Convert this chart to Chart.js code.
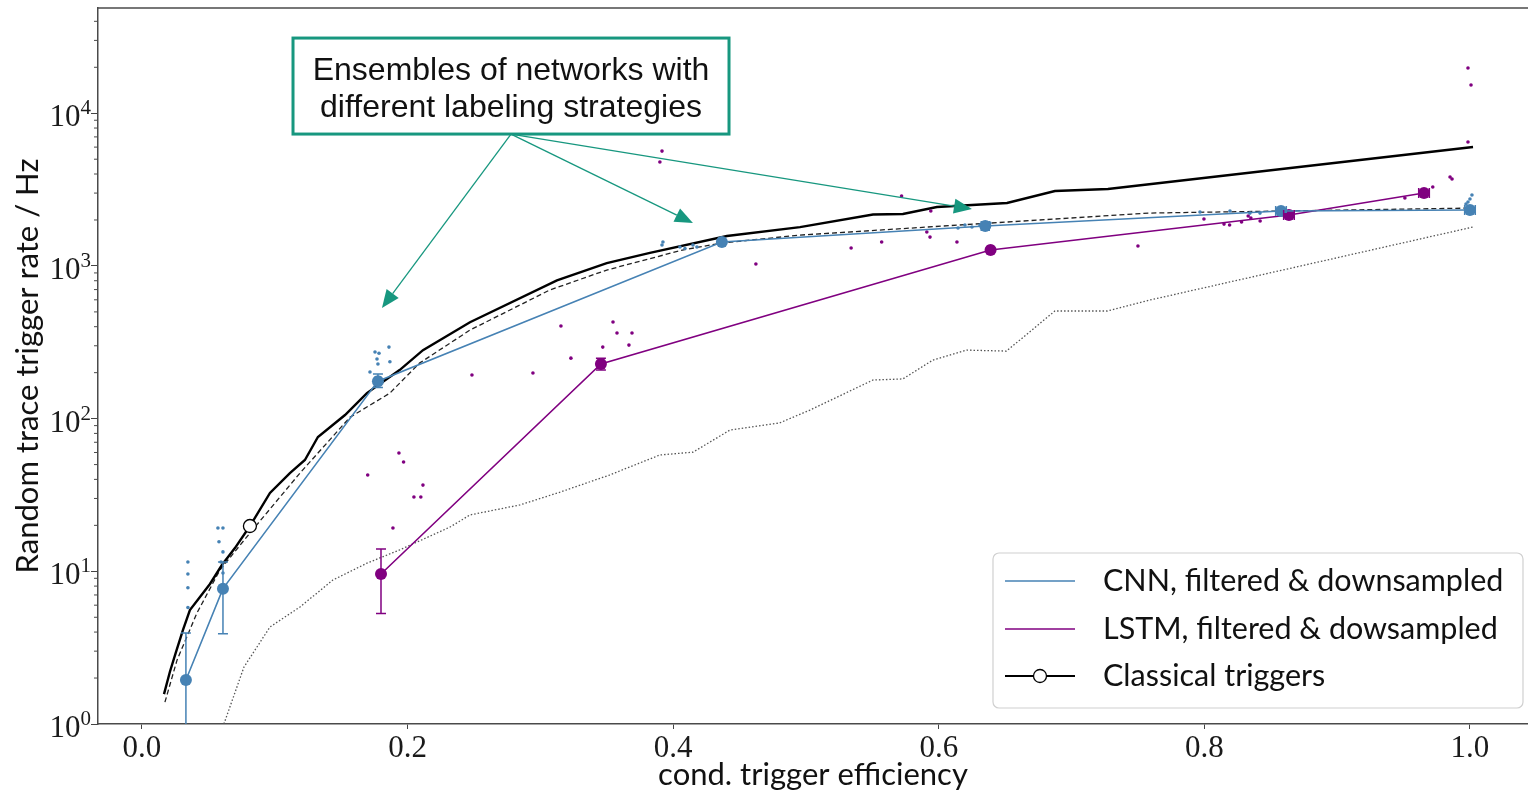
<!DOCTYPE html>
<html><head><meta charset="utf-8">
<script src="https://cdn.jsdelivr.net/npm/chart.js@4/dist/chart.umd.min.js"></script>
<style>html,body{margin:0;padding:0;background:#fff;overflow:hidden}#wrap{width:1528px;height:795px;position:relative}</style>
</head><body><div id="wrap"><canvas id="c" width="1528" height="795"></canvas></div>
<script>
// ---------------- data ----------------
const cnnX    = [0.0331, 0.0610, 0.1777, 0.4367, 0.6350, 0.8577, 1.0000];
const cnnY    = [1.94, 7.7, 176, 1434, 1825, 2290, 2323];
const cnnYLo  = [0.5, 3.9, 160, 1390, 1790, 2250, 2290];
const cnnYHi  = [3.95, 11.5, 196, 1480, 1860, 2330, 2360];
const cnnXErr = [0, 0, 0.002, 0.002, 0.003, 0.004, 0.004];

const lstmX    = [0.1800, 0.3456, 0.6390, 0.8637, 0.9654];
const lstmY    = [9.6, 228, 1271, 2154, 3001];
const lstmYLo  = [5.3, 208, 1240, 2110, 2930];
const lstmYHi  = [14, 249, 1300, 2200, 3070];
const lstmXErr = [0, 0.002, 0.002, 0.004, 0.004];

const cnnEnsX = [0.0346,0.0346,0.0346,0.0346, 0.0572,0.0610,0.0580,0.0610,0.0595,0.0610,
                 0.1755,0.1785,0.1860,0.1770,0.1777,0.1867,0.1717,
                 0.3923,0.3916,0.4051,0.4089,0.4149,0.4179,
                 0.6145,0.6197,0.6250,0.6310,0.6385,
                 0.7967,0.8193,0.8343,0.8419,
                 1.0015,1.0000,0.9985,0.9970];
const cnnEnsY = [11.5,9.6,7.8,5.8, 19.2,19.2,15.6,13.4,11.5,9.75,
                 273,268,294,246,228,236,202,
                 1434,1371,1330,1300,1371,1330,
                 1770,1853,1800,1853,1910,
                 2254,2290,2218,2218,
                 2912,2742,2620,2541];

const lstmEnsX = [0.170,0.1935,0.197,0.2116,0.2048,0.2100,0.1890,
                  0.2485,0.2944,0.3155,0.3230,0.3470,0.3547,0.3577,0.3690,0.3667,
                  0.3916,0.3900,
                  0.4623,0.5340,0.5570,0.5720,0.5910,0.5934,0.5940,0.6137,
                  0.7500,
                  0.7997,0.8148,0.8190,0.8280,0.8330,0.8350,0.8420,
                  0.9510,0.9720,0.9850,0.9865,
                  0.9985,1.0008,0.9985];
const lstmEnsY = [42.7,59.5,52,36.7,30.7,30.7,19.2,
                  193,199,404,249,294,429,364,364,303,
                  5650,4790,
                  1029,1310,1434,2870,1667,1545,2290,1434,
                  1350,
                  2028,1880,1853,1938,2122,2060,1968,
                  2786,3288,3820,3708,
                  19780,15300,6480];

const classicX = [0.0166,0.0210,0.0256,0.0309,0.0361,0.0512,0.0602,0.0700,0.0813,0.0964,0.1114,0.1227,0.1325,0.1529,0.1694,0.1940,0.2116,0.2470,0.3125,0.3500,0.3825,0.4405,0.4955,0.5505,0.5730,0.5986,0.6514,0.6875,0.7274,1.0023];
const classicY = [1.57,2.19,2.96,4.13,5.58,8.26,11.0,14.2,19.8,32.6,44,53.6,75.8,105.6,147,208,281,428,805,1043,1217,1570,1797,2170,2188,2432,2583,3093,3190,6010];
const classicMarkX = [0.0813];
const classicMarkY = [19.8];

const dashedX = [0.0173,0.0264,0.0414,0.0587,0.0813,0.1190,0.1566,0.1867,0.2090,0.2470,0.3070,0.3500,0.4070,0.4367,0.4955,0.7590,1.0023];
const dashedY = [1.39,2.62,5.33,10.2,17.8,44,102,147,231,380,695,940,1271,1413,1593,2220,2394];

const dottedX = [0.0617,0.0768,0.0964,0.1190,0.1438,0.1694,0.1940,0.2320,0.2470,0.2846,0.3148,0.3520,0.3900,0.4150,0.4428,0.4800,0.5030,0.5505,0.5730,0.5956,0.6210,0.6510,0.6875,0.7270,0.7590,1.0023];
const dottedY = [1.0,2.36,4.32,5.84,8.77,11.3,13.8,19.5,23.4,27.2,33,42.7,57.8,60.3,84.2,93.6,113.8,179,182,242,281,277,507,507,598,1798];

const xTickValues = [0.0, 0.2, 0.4, 0.6, 0.8, 1.0];
const xTickLabels = ['0.0', '0.2', '0.4', '0.6', '0.8', '1.0'];
const yTickValues = [1, 10, 100, 1000, 10000];
const yTickExps   = ['0', '1', '2', '3', '4'];
const yMinorMult  = [2,3,4,5,6,7,8,9];

const legendLabels = ['CNN, filtered & downsampled', 'LSTM, filtered & dowsampled', 'Classical triggers'];
const annoLines = ['Ensembles of networks with', 'different labeling strategies'];
const annoBox = {x: 0.2779, y: 15070};
const annoTargets = [{x: 0.1807, y: 530}, {x: 0.4149, y: 1910}, {x: 0.6250, y: 2358}];

const X_MIN = -0.0331, X_MAX = 1.0437, Y_MIN = 1, Y_MAX = 48900;

// ---------------- styles ----------------
const BLUE = '#4682b4', PURPLE = '#800080', TEAL = '#17977f';
const pts = (xs, ys) => xs.map((x, i) => ({x: x, y: ys[i]}));

const errPlugin = {
  id: 'errbars',
  afterDatasetsDraw(chart) {
    const ctx = chart.ctx, ca = chart.chartArea, xs = chart.scales.x, ys = chart.scales.y;
    ctx.save();
    ctx.beginPath(); ctx.rect(ca.left, ca.top, ca.right - ca.left, ca.bottom - ca.top); ctx.clip();
    chart.data.datasets.forEach(ds => {
      if (!ds.errLo) return;
      ctx.strokeStyle = ds.borderColor; ctx.lineWidth = 1.5;
      ds.data.forEach((p, i) => {
        const px = xs.getPixelForValue(p.x), py = ys.getPixelForValue(p.y);
        const lo = ys.getPixelForValue(ds.errLo[i]), hi = ys.getPixelForValue(ds.errHi[i]);
        ctx.beginPath();
        ctx.moveTo(px, lo); ctx.lineTo(px, hi);
        ctx.moveTo(px - 5, lo); ctx.lineTo(px + 5, lo);
        ctx.moveTo(px - 5, hi); ctx.lineTo(px + 5, hi);
        const xe = ds.errX[i];
        if (xe > 0) {
          const a = xs.getPixelForValue(p.x - xe), b = xs.getPixelForValue(p.x + xe);
          ctx.moveTo(a, py); ctx.lineTo(b, py);
          ctx.moveTo(a, py - 5); ctx.lineTo(a, py + 5);
          ctx.moveTo(b, py - 5); ctx.lineTo(b, py + 5);
        }
        ctx.stroke();
      });
    });
    ctx.restore();
  }
};

const decoPlugin = {
  id: 'deco',
  afterDraw(chart) {
    const ctx = chart.ctx, ca = chart.chartArea, xs = chart.scales.x, ys = chart.scales.y;
    ctx.save();
    // top spine
    ctx.strokeStyle = '#4a4a4a'; ctx.lineWidth = 1.5;
    ctx.beginPath(); ctx.moveTo(ca.left - 0.75, ca.top); ctx.lineTo(ca.right, ca.top); ctx.stroke();
    // minor y ticks
    ctx.lineWidth = 1;
    yTickValues.forEach(d => {
      yMinorMult.forEach(m => {
        const v = d * m;
        if (v > Y_MAX) return;
        const py = ys.getPixelForValue(v);
        ctx.beginPath(); ctx.moveTo(ca.left - 4, py); ctx.lineTo(ca.left, py); ctx.stroke();
      });
    });
    // y tick labels 10^k
    ctx.fillStyle = '#1a1a1a';
    yTickValues.forEach((v, i) => {
      const py = ys.getPixelForValue(v);
      ctx.font = '21px "Liberation Serif"';
      const ew = ctx.measureText(yTickExps[i]).width;
      ctx.textAlign = 'right'; ctx.textBaseline = 'alphabetic';
      const xr = ca.left - 7;
      ctx.fillText(yTickExps[i], xr, py + 1);
      ctx.font = '31px "Liberation Serif"';
      ctx.fillText('10', xr - ew, py + 13);
    });
    // annotation arrows
    const bx = xs.getPixelForValue(annoBox.x), by = ys.getPixelForValue(annoBox.y);
    const bw = 436, bh = 96;
    const sx = bx, sy = by + bh / 2;
    ctx.strokeStyle = TEAL; ctx.fillStyle = TEAL; ctx.lineWidth = 1.3;
    annoTargets.forEach(t => {
      const tx = xs.getPixelForValue(t.x), ty = ys.getPixelForValue(t.y);
      const dx = tx - sx, dy = ty - sy, L = Math.hypot(dx, dy);
      const ux = dx / L, uy = dy / L, hl = 18, hw = 7.5;
      const cx = tx - ux * hl, cy = ty - uy * hl;
      ctx.beginPath(); ctx.moveTo(sx, sy); ctx.lineTo(cx, cy); ctx.stroke();
      ctx.beginPath();
      ctx.moveTo(tx, ty);
      ctx.lineTo(cx - uy * hw, cy + ux * hw);
      ctx.lineTo(cx + uy * hw, cy - ux * hw);
      ctx.closePath(); ctx.fill();
    });
    // annotation box
    ctx.fillStyle = '#fff';
    ctx.fillRect(bx - bw / 2, by - bh / 2, bw, bh);
    ctx.strokeStyle = TEAL; ctx.lineWidth = 3;
    ctx.strokeRect(bx - bw / 2, by - bh / 2, bw, bh);
    ctx.fillStyle = '#111'; ctx.font = '32px "Liberation Sans"';
    ctx.textAlign = 'center'; ctx.textBaseline = 'middle';
    ctx.fillText(annoLines[0], bx, by - 15);
    ctx.fillText(annoLines[1], bx, by + 22);
    // legend
    const lx0 = 993, ly0 = 553, lw = 530, lh = 155;
    ctx.beginPath();
    if (ctx.roundRect) ctx.roundRect(lx0, ly0, lw, lh, 6); else ctx.rect(lx0, ly0, lw, lh);
    ctx.fillStyle = 'rgba(255,255,255,0.85)'; ctx.fill();
    ctx.strokeStyle = '#d0d0d0'; ctx.lineWidth = 1.2; ctx.stroke();
    const rows = [581, 629, 676];
    const cols = [BLUE, PURPLE, '#000'];
    rows.forEach((ry, i) => {
      ctx.strokeStyle = cols[i]; ctx.lineWidth = i === 2 ? 2 : 1.6;
      ctx.beginPath(); ctx.moveTo(1005, ry); ctx.lineTo(1075, ry); ctx.stroke();
      if (i === 2) {
        ctx.beginPath(); ctx.arc(1040, ry, 6.5, 0, Math.PI * 2);
        ctx.fillStyle = '#fff'; ctx.fill(); ctx.lineWidth = 1.3; ctx.stroke();
      }
      ctx.fillStyle = '#111'; ctx.font = '30.5px Lato';
      ctx.textAlign = 'left'; ctx.textBaseline = 'middle';
      ctx.fillText(legendLabels[i], 1103, ry);
    });
    ctx.restore();
  }
};

new Chart(document.getElementById('c'), {
  type: 'scatter',
  data: {
    datasets: [
      {label: legendLabels[0], data: pts(cnnX, cnnY), showLine: true, borderColor: BLUE, backgroundColor: BLUE,
       borderWidth: 1.6, pointRadius: 6, pointBorderWidth: 0, pointBackgroundColor: BLUE, tension: 0, order: 1,
       errLo: cnnYLo, errHi: cnnYHi, errX: cnnXErr},
      {label: legendLabels[1], data: pts(lstmX, lstmY), showLine: true, borderColor: PURPLE, backgroundColor: PURPLE,
       borderWidth: 1.6, pointRadius: 6, pointBorderWidth: 0, pointBackgroundColor: PURPLE, tension: 0, order: 2,
       errLo: lstmYLo, errHi: lstmYHi, errX: lstmXErr},
      {label: 'cnn ensemble', data: pts(cnnEnsX, cnnEnsY), showLine: false, pointRadius: 1.8, pointBorderWidth: 0,
       pointBackgroundColor: BLUE, borderColor: BLUE, order: 3},
      {label: 'lstm ensemble', data: pts(lstmEnsX, lstmEnsY), showLine: false, pointRadius: 1.8, pointBorderWidth: 0,
       pointBackgroundColor: PURPLE, borderColor: PURPLE, order: 4},
      {label: 'classical marker', data: pts(classicMarkX, classicMarkY), showLine: false, pointRadius: 6.5,
       pointBorderWidth: 1.3, pointBorderColor: '#000', pointBackgroundColor: '#fff', order: 5},
      {label: legendLabels[2], data: pts(classicX, classicY), showLine: true, borderColor: '#000', borderWidth: 2.4,
       pointRadius: 0, tension: 0, order: 7},
      {label: 'dashed', data: pts(dashedX, dashedY), showLine: true, borderColor: '#222', borderWidth: 1.3,
       borderDash: [5, 3], pointRadius: 0, tension: 0, order: 8},
      {label: 'dotted', data: pts(dottedX, dottedY), showLine: true, borderColor: '#555', borderWidth: 1.3,
       borderDash: [1.5, 2], pointRadius: 0, tension: 0, order: 9}
    ]
  },
  options: {
    responsive: false, animation: false, devicePixelRatio: 1, events: [],
    layout: {autoPadding: false, padding: {top: 8, left: 0, right: 0, bottom: 0}},
    plugins: {legend: {display: false}, tooltip: {enabled: false}},
    scales: {
      x: {
        type: 'linear', min: X_MIN, max: X_MAX,
        afterBuildTicks: s => { s.ticks = xTickValues.map(v => ({value: v})); },
        ticks: {callback: (v, i) => xTickLabels[i], font: {family: 'Liberation Serif', size: 31}, color: '#1a1a1a',
                padding: 1, maxRotation: 0, autoSkip: false},
        grid: {drawOnChartArea: false, drawTicks: true, tickLength: 5, color: '#444', tickWidth: 1},
        border: {display: true, color: '#4a4a4a', width: 1.5},
        title: {display: true, text: 'cond. trigger efficiency', font: {family: 'Lato', size: 31}, color: '#111',
                padding: {top: 0, bottom: 1}},
        afterFit: s => { s.height = 71; }
      },
      y: {
        type: 'logarithmic', min: Y_MIN, max: Y_MAX,
        afterBuildTicks: s => { s.ticks = yTickValues.map(v => ({value: v, major: true})); },
        ticks: {display: false},
        grid: {drawOnChartArea: false, drawTicks: true, tickLength: 7, color: '#444', tickWidth: 1},
        border: {display: true, color: '#4a4a4a', width: 1.5},
        title: {display: true, text: 'Random trace trigger rate / Hz', font: {family: 'Lato', size: 31}, color: '#111',
                padding: {top: 9, bottom: 0}},
        afterFit: s => { s.width = 98; }
      }
    }
  },
  plugins: [errPlugin, decoPlugin]
});
</script></body></html>
